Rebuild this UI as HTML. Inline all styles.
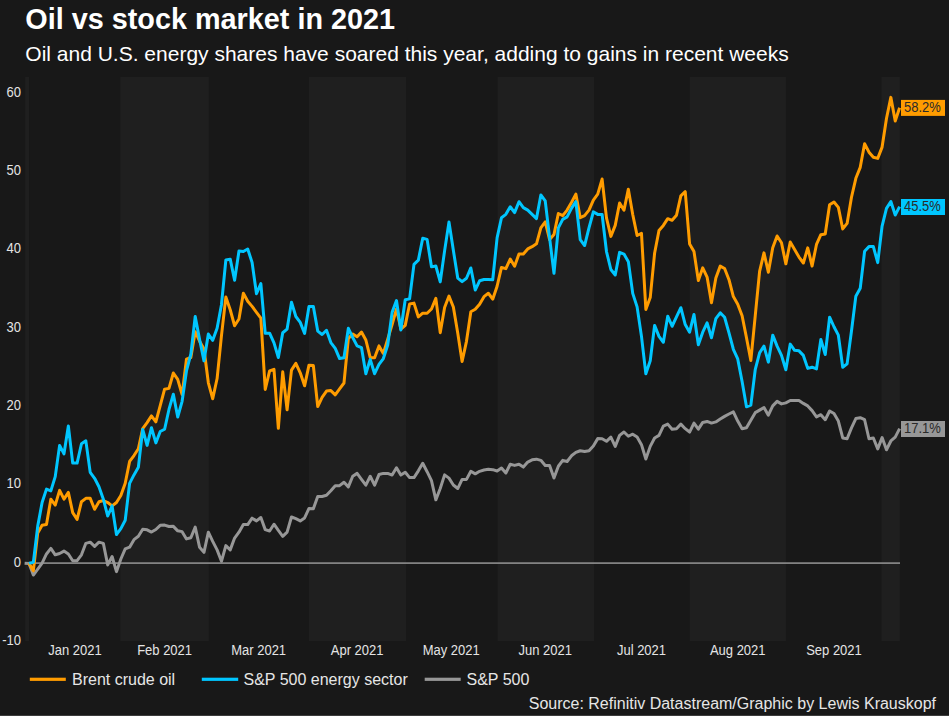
<!DOCTYPE html>
<html><head><meta charset="utf-8"><style>
html,body{margin:0;padding:0;background:#181818;}
body{width:949px;height:716px;overflow:hidden;position:relative;font-family:"Liberation Sans",sans-serif;}
.t{position:absolute;left:25px;top:0;font-weight:bold;font-size:29px;color:#fff;white-space:nowrap;}
.s{position:absolute;left:25px;top:0;font-size:21px;color:#fff;white-space:nowrap;}
svg{position:absolute;left:0;top:0;}
.bl{position:absolute;left:0;top:715px;width:949px;height:1px;background:#3c3c3c;}
</style></head><body>
<svg width="949" height="716" viewBox="0 0 949 716" font-family="Liberation Sans, sans-serif">
<text x="25.3" y="29" font-size="28.8" font-weight="bold" fill="#fff">Oil vs stock market in 2021</text>
<text x="25.3" y="60.8" font-size="21" fill="#fff">Oil and U.S. energy shares have soared this year, adding to gains in recent weeks</text>
<rect x="25.10" y="77" width="3.95" height="564" fill="#1f1f1f"/><rect x="120.30" y="77" width="88.60" height="564" fill="#1f1f1f"/><rect x="308.90" y="77" width="97.10" height="564" fill="#1f1f1f"/><rect x="497.65" y="77" width="96.42" height="564" fill="#1f1f1f"/><rect x="689.70" y="77" width="96.27" height="564" fill="#1f1f1f"/><rect x="881.50" y="77" width="18.40" height="564" fill="#1f1f1f"/>
<rect x="25" y="562.3" width="875" height="1.6" fill="#8e8e8e"/>
<g font-size="13" fill="#e4e4e4"><text transform="translate(21,644.90) scale(1,1.08)" text-anchor="end">-10</text><text transform="translate(21,566.60) scale(1,1.08)" text-anchor="end">0</text><text transform="translate(21,488.30) scale(1,1.08)" text-anchor="end">10</text><text transform="translate(21,410.00) scale(1,1.08)" text-anchor="end">20</text><text transform="translate(21,331.70) scale(1,1.08)" text-anchor="end">30</text><text transform="translate(21,253.40) scale(1,1.08)" text-anchor="end">40</text><text transform="translate(21,175.10) scale(1,1.08)" text-anchor="end">50</text><text transform="translate(21,96.80) scale(1,1.08)" text-anchor="end">60</text></g>
<g font-size="13" fill="#e4e4e4"><text transform="translate(74.91,655) scale(1,1.08)" text-anchor="middle">Jan 2021</text><text transform="translate(164.60,655) scale(1,1.08)" text-anchor="middle">Feb 2021</text><text transform="translate(258.66,655) scale(1,1.08)" text-anchor="middle">Mar 2021</text><text transform="translate(357.10,655) scale(1,1.08)" text-anchor="middle">Apr 2021</text><text transform="translate(451.16,655) scale(1,1.08)" text-anchor="middle">May 2021</text><text transform="translate(545.23,655) scale(1,1.08)" text-anchor="middle">Jun 2021</text><text transform="translate(641.48,655) scale(1,1.08)" text-anchor="middle">Jul 2021</text><text transform="translate(737.73,655) scale(1,1.08)" text-anchor="middle">Aug 2021</text><text transform="translate(833.98,655) scale(1,1.08)" text-anchor="middle">Sep 2021</text></g>
<g fill="none" stroke-width="3" stroke-linejoin="round" stroke-linecap="butt">
<polyline points="24.60,563.23 28.98,563.57 33.35,575.03 37.73,569.13 42.10,563.23 46.48,553.96 50.85,548.39 55.23,554.80 59.60,553.45 63.98,551.09 68.35,553.96 72.72,560.70 77.10,560.70 81.47,554.80 85.85,543.33 90.22,542.15 94.60,546.37 98.97,542.15 103.35,543.33 107.72,564.92 112.10,556.49 116.47,571.66 120.85,559.01 125.22,548.90 129.60,547.21 133.97,539.63 138.35,536.25 142.72,529.17 147.10,529.85 151.47,532.04 155.85,529.51 160.22,525.35 164.60,525.10 168.97,526.53 173.35,526.36 177.72,530.83 182.10,531.65 186.47,538.90 190.85,537.72 195.22,527.10 199.60,547.33 203.97,552.39 208.35,532.15 212.72,541.43 217.10,549.86 221.47,561.32 225.85,545.64 230.22,549.86 234.60,538.06 238.97,532.15 243.35,524.57 247.72,524.57 252.10,518.16 256.48,520.86 260.85,517.49 265.23,529.63 269.60,530.97 273.98,524.23 278.35,530.47 282.73,536.37 287.10,532.15 291.48,516.98 295.85,518.67 300.23,520.89 304.60,517.94 308.98,508.41 313.35,508.67 317.73,496.44 322.10,496.47 326.48,495.29 330.85,490.74 335.23,485.68 339.60,485.68 343.98,482.31 348.35,486.86 352.73,476.24 357.10,473.38 361.48,479.28 365.85,485.18 370.23,476.24 374.60,485.18 378.98,474.56 383.35,473.38 387.73,473.38 392.10,475.06 396.48,467.81 400.85,475.06 405.23,472.20 409.60,477.59 413.98,477.59 418.35,470.85 422.73,463.26 427.10,471.69 431.48,480.63 435.85,499.85 440.23,488.55 444.60,474.87 448.98,478.16 453.35,484.99 457.73,488.53 462.10,479.40 466.48,479.40 470.85,471.31 475.23,473.84 479.60,471.31 483.98,469.96 488.35,469.29 492.73,469.63 497.10,470.97 501.48,467.94 505.85,473.00 510.23,464.23 514.60,465.41 518.98,464.23 523.35,467.10 527.73,462.04 532.10,459.85 536.48,459.17 540.85,460.35 545.23,465.41 549.60,465.41 553.98,478.06 558.35,466.25 562.73,460.35 567.10,461.53 571.48,455.80 575.85,452.43 580.23,450.74 584.60,451.42 588.98,450.66 593.35,445.94 597.73,438.61 602.10,438.78 606.48,441.31 610.85,437.10 615.23,446.37 619.60,435.41 623.98,432.04 628.35,436.25 632.73,434.23 637.10,437.10 641.48,444.68 645.85,459.01 650.23,446.37 654.60,437.94 658.98,435.41 663.35,426.14 667.73,424.11 672.10,429.17 676.48,428.67 680.85,424.11 685.23,428.67 689.60,432.04 693.98,423.10 698.35,429.17 702.73,422.43 707.10,421.42 711.48,423.10 715.85,421.92 720.23,419.06 724.60,416.36 728.98,414.00 733.35,411.81 737.73,421.08 742.10,428.67 746.48,427.82 750.85,420.24 755.23,412.65 759.60,410.12 763.98,407.59 768.35,415.18 772.73,405.91 777.10,401.35 781.48,403.88 785.85,402.87 790.23,400.51 794.60,400.51 798.98,400.51 803.35,403.38 807.73,405.91 812.10,410.63 816.48,416.86 820.85,414.67 825.23,419.73 829.60,410.96 833.98,413.49 838.35,421.08 842.73,437.94 847.10,438.78 851.48,427.82 855.85,418.55 860.23,417.71 864.60,419.73 868.98,438.78 873.35,437.94 877.73,448.90 882.10,437.60 886.48,449.74 890.85,440.97 895.23,437.10 899.60,428.67" stroke="#979797"/>
<polyline points="28.98,563.23 33.35,570.82 37.73,532.88 42.10,525.29 46.48,524.45 50.85,499.16 55.23,505.06 59.60,490.39 63.98,499.16 68.35,492.42 72.72,512.65 77.10,519.39 81.47,501.69 85.85,498.32 90.22,498.32 94.60,509.28 98.97,501.69 103.35,500.51 107.72,502.53 112.10,505.91 116.47,502.53 120.85,495.47 125.22,483.24 129.60,461.43 133.97,455.53 138.35,448.78 142.72,428.55 147.10,422.65 151.47,415.91 155.85,421.81 160.22,405.66 164.60,389.22 168.97,388.38 173.35,372.99 177.72,379.39 182.10,394.57 186.47,359.16 190.85,357.48 195.22,331.66 199.60,341.20 203.97,349.05 208.35,382.77 212.72,398.78 217.10,378.55 221.47,335.56 225.85,297.10 230.22,309.74 234.60,325.76 238.97,319.01 243.35,293.22 247.72,301.31 252.10,306.37 256.48,312.27 260.85,318.17 265.23,389.51 269.60,370.96 273.98,369.28 278.35,428.29 282.73,371.81 287.10,409.74 291.48,370.12 295.85,363.38 300.23,372.77 304.60,385.83 308.98,365.18 313.35,365.60 317.73,406.49 322.10,397.33 326.48,391.09 330.85,390.58 335.23,394.80 339.60,388.90 343.98,383.00 348.35,338.42 352.73,333.95 357.10,336.73 361.48,332.10 365.85,340.00 370.23,357.71 374.60,357.71 378.98,345.91 383.35,353.49 387.73,339.16 392.10,324.51 396.48,309.01 400.85,329.05 405.23,325.35 409.60,303.96 413.98,303.11 418.35,316.94 422.73,313.23 427.10,313.23 431.48,309.01 435.85,298.39 440.23,332.64 444.60,307.46 448.98,296.08 453.35,307.04 457.73,332.88 462.10,361.54 466.48,341.31 470.85,311.81 475.23,309.28 479.60,304.22 483.98,296.63 488.35,293.26 492.73,299.16 497.10,286.25 501.48,267.44 505.85,268.62 510.23,259.01 514.60,266.26 518.98,253.96 523.35,253.96 527.73,248.90 532.10,246.71 536.48,243.84 540.85,227.82 545.23,221.92 549.60,239.63 553.98,234.57 558.35,213.49 562.73,215.68 567.10,210.12 571.48,202.53 575.85,194.10 580.23,217.71 584.60,215.66 588.98,210.18 593.35,200.06 597.73,194.16 602.10,179.05 606.48,217.82 610.85,236.37 615.23,225.41 619.60,202.99 623.98,210.24 628.35,189.16 632.73,214.45 637.10,235.53 641.48,233.33 645.85,309.39 650.23,297.59 654.60,253.23 658.98,230.47 663.35,225.41 667.73,218.67 672.10,220.35 676.48,215.29 680.85,195.91 685.23,191.69 689.60,243.96 693.98,251.54 698.35,280.47 702.73,267.82 707.10,277.10 711.48,302.65 715.85,277.94 720.23,266.14 724.60,268.46 728.98,279.70 733.35,296.62 737.73,304.21 742.10,315.79 746.48,337.71 750.85,360.47 755.23,315.79 759.60,271.43 763.98,252.88 768.35,272.27 772.73,247.82 777.10,236.02 781.48,242.77 785.85,263.84 790.23,241.92 794.60,249.51 798.98,257.10 803.35,263.00 807.73,247.82 812.10,266.03 816.48,244.45 820.85,234.67 825.23,234.00 829.60,204.83 833.98,201.96 838.35,207.36 842.73,228.94 847.10,223.38 851.48,197.24 855.85,178.29 860.23,167.33 864.60,143.72 868.98,152.15 873.35,157.21 877.73,158.39 882.10,147.10 886.48,118.43 890.85,97.36 895.23,120.96 899.60,107.81" stroke="#ff9c00"/>
<polyline points="28.98,563.23 33.35,562.39 37.73,526.14 42.10,502.53 46.48,489.15 50.85,490.83 55.23,476.60 59.60,445.41 63.98,453.84 68.35,426.02 72.72,463.11 77.10,463.11 81.47,443.72 85.85,440.86 90.22,472.39 94.60,478.29 98.97,486.72 103.35,499.16 107.72,516.02 112.10,505.91 116.47,534.57 120.85,528.67 125.22,520.24 129.60,483.35 133.97,474.92 138.35,467.33 142.72,429.39 147.10,445.41 151.47,427.71 155.85,442.88 160.22,431.54 164.60,429.26 168.97,409.45 173.35,394.28 177.72,417.04 182.10,401.31 186.47,370.96 190.85,354.10 195.22,316.49 199.60,339.51 203.97,360.85 208.35,334.03 212.72,340.35 217.10,328.29 221.47,304.68 225.85,260.00 230.22,259.16 234.60,280.24 238.97,251.07 243.35,251.57 247.72,249.05 252.10,262.53 256.48,293.72 260.85,283.61 265.23,333.35 269.60,333.19 273.98,342.88 278.35,357.48 282.73,332.77 287.10,329.13 291.48,302.15 295.85,316.49 300.23,322.40 304.60,333.47 308.98,306.43 313.35,306.43 317.73,331.11 322.10,334.46 326.48,330.24 330.85,342.53 335.23,348.43 339.60,358.55 343.98,357.71 348.35,328.30 352.73,337.48 357.10,345.91 361.48,347.59 365.85,373.72 370.23,359.39 374.60,373.72 378.98,364.45 383.35,358.55 387.73,345.06 392.10,312.39 396.48,300.58 400.85,329.99 405.23,299.74 409.60,298.90 413.98,264.34 418.35,260.12 422.73,238.20 427.10,239.38 431.48,266.86 435.85,266.02 440.23,281.91 444.60,250.85 448.98,222.05 453.35,250.29 457.73,278.10 462.10,281.62 466.48,278.24 470.85,267.95 475.23,290.05 479.60,280.77 483.98,279.51 488.35,279.51 492.73,279.76 497.10,237.94 501.48,217.71 505.85,214.34 510.23,206.75 514.60,212.65 518.98,201.69 523.35,207.59 527.73,210.12 532.10,214.34 536.48,218.55 540.85,194.95 545.23,200.85 549.60,237.94 553.98,273.35 558.35,227.82 562.73,219.39 567.10,216.86 571.48,208.43 575.85,201.69 580.23,239.63 584.60,245.53 588.98,227.88 593.35,211.86 597.73,214.39 602.10,214.45 606.48,251.54 610.85,269.51 615.23,274.99 619.60,252.39 623.98,254.07 628.35,261.66 632.73,293.38 637.10,306.86 641.48,336.37 645.85,373.80 650.23,360.82 654.60,325.41 658.98,336.37 663.35,342.27 667.73,316.14 672.10,326.25 676.48,316.98 680.85,307.71 685.23,324.57 689.60,332.15 693.98,314.45 698.35,344.80 702.73,332.15 707.10,322.88 711.48,337.72 715.85,318.67 720.23,312.77 724.60,317.23 728.98,332.82 733.35,349.26 737.73,358.96 742.10,381.54 746.48,406.83 750.85,405.15 755.23,369.74 759.60,352.88 763.98,346.14 768.35,362.15 772.73,335.18 777.10,346.14 781.48,355.41 785.85,369.74 790.23,344.11 794.60,350.35 798.98,350.86 803.35,355.41 807.73,368.39 812.10,367.21 816.48,368.90 820.85,339.39 825.23,354.57 829.60,317.14 833.98,326.75 838.35,335.18 842.73,367.21 847.10,363.84 851.48,330.96 855.85,296.14 860.23,288.35 864.60,251.25 868.98,246.62 873.35,246.62 877.73,262.63 882.10,226.02 886.48,208.32 890.85,201.57 895.23,215.06 899.60,206.63" stroke="#00c6ff"/>
</g>
<rect x="901" y="99.9" width="44" height="16" fill="#ff9c00"/>
<text transform="translate(904,112) scale(1,1.1)" font-size="13" fill="#2a2a2a">58.2%</text>
<rect x="901" y="199" width="44" height="16" fill="#00c6ff"/>
<text transform="translate(904,211.2) scale(1,1.1)" font-size="13" fill="#2a2a2a">45.5%</text>
<rect x="901" y="421" width="44" height="16" fill="#979797"/>
<text transform="translate(904,433) scale(1,1.1)" font-size="13" fill="#2a2a2a">17.1%</text>
<g font-size="16" fill="#e6e6e6">
<rect x="29.8" y="677.7" width="36" height="3.2" fill="#ff9c00"/>
<text x="72" y="685">Brent crude oil</text>
<rect x="201.8" y="677.7" width="36.4" height="3.2" fill="#00c6ff"/>
<text x="243.5" y="685">S&amp;P 500 energy sector</text>
<rect x="424.7" y="677.7" width="36" height="3.2" fill="#979797"/>
<text x="466.5" y="685">S&amp;P 500</text>
<text x="936" y="709" text-anchor="end">Source: Refinitiv Datastream/Graphic by Lewis Krauskopf</text>
</g>
</svg>
<div class="bl"></div>
</body></html>
